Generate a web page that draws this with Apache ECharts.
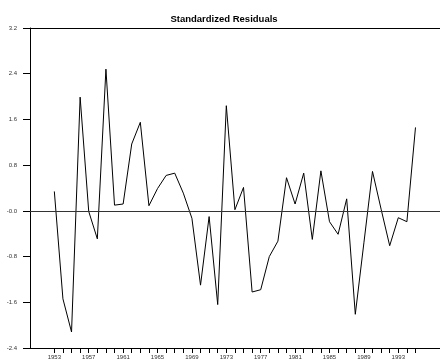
<!DOCTYPE html>
<html>
<head>
<meta charset="utf-8">
<script src="https://cdn.jsdelivr.net/npm/echarts@6/dist/echarts.min.js"></script>
<style>
html,body{margin:0;padding:0;background:#fff;}
#chart{width:440px;height:364px;}
</style>
</head>
<body>
<div id="chart"></div>
<script>
const years = [1953,1954,1955,1956,1957,1958,1959,1960,1961,1962,1963,1964,1965,1966,1967,1968,1969,1970,1971,1972,1973,1974,1975,1976,1977,1978,1979,1980,1981,1982,1983,1984,1985,1986,1987,1988,1989,1990,1991,1992,1993,1994,1995];
const residuals = [0.34,-1.54,-2.12,1.99,-0.01,-0.49,2.48,0.10,0.12,1.17,1.55,0.09,0.39,0.62,0.66,0.31,-0.13,-1.30,-0.10,-1.64,1.84,0.02,0.41,-1.42,-1.38,-0.80,-0.53,0.58,0.12,0.66,-0.50,0.70,-0.19,-0.41,0.21,-1.81,-0.56,0.69,0.03,-0.61,-0.12,-0.19,1.46];
const tickYears = [1953,1954,1955,1956,1957,1958,1959,1960,1961,1962,1963,1964,1965,1966,1967,1968,1969,1970,1971,1972,1973,1974,1975,1976,1977,1978,1979,1980,1981,1982,1983,1984,1985,1986,1987,1988,1989,1990,1991,1992,1993,1994,1995];
const labelYears = [1953,1957,1961,1965,1969,1973,1977,1981,1985,1989,1993];
const titleText = 'Standardized Residuals';

const chart = echarts.init(document.getElementById('chart'));
const fontFam = '"Liberation Sans", Arial, sans-serif';
chart.setOption({
  animation: false,
  backgroundColor: '#fff',
  title: {
    text: titleText,
    left: 219, top: 9, textAlign: 'center',
    textStyle: {fontFamily: fontFam, fontSize: 9.5, fontWeight: 'bold', color: '#000'}
  },
  grid: {left: 30, right: 0, top: 28, bottom: 16},
  xAxis: [{
    type: 'value', min: 1950.17, max: 1997.85,
    axisLine: {show: true, onZero: false, lineStyle: {color: '#000', width: 1}},
    axisTick: {show: true, customValues: tickYears, length: 5, inside: false, lineStyle: {color: '#000'}},
    axisLabel: {show: true, customValues: labelYears, fontFamily: fontFam, fontSize: 6, color: '#333', margin: 6,
      formatter: v => String(Math.round(v))},
    splitLine: {show: false}
  }, {
    type: 'value', position: 'top', min: 1950.17, max: 1997.85,
    axisLine: {show: true, onZero: false, lineStyle: {color: '#000', width: 1}},
    axisTick: {show: false}, axisLabel: {show: false}, splitLine: {show: false}
  }],
  yAxis: [{
    type: 'value', min: -2.4, max: 3.2, interval: 0.8,
    axisLine: {show: true, onZero: false, lineStyle: {color: '#000', width: 1}},
    axisTick: {show: true, length: 7, inside: false, lineStyle: {color: '#000'}},
    axisLabel: {fontFamily: fontFam, fontSize: 6, color: '#333', margin: 13,
      formatter: v => Math.abs(v) < 1e-9 ? '-0.0' : v.toFixed(1)},
    splitLine: {show: false}
  }, {
    type: 'value', position: 'right', min: -2.4, max: 3.2,
    axisLine: {show: true, onZero: false, lineStyle: {color: '#ccc', width: 1}},
    axisTick: {show: false}, axisLabel: {show: false}, splitLine: {show: false}
  }],
  series: [{
    type: 'line',
    data: years.map((y, i) => [y, residuals[i]]),
    showSymbol: false,
    lineStyle: {color: '#000', width: 1},
    markLine: {
      silent: true, symbol: 'none', label: {show: false},
      lineStyle: {color: '#333', type: 'solid', width: 1},
      data: [{yAxis: 0}]
    }
  }]
});
</script>
</body>
</html>
